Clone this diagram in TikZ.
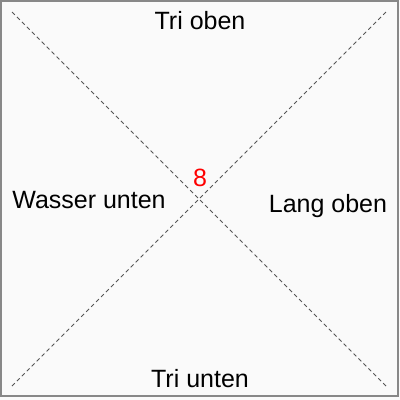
\documentclass[tikz,border=0pt]{standalone}
\usepackage{fontspec}
\setmainfont{Liberation Sans}
\usepackage{tikz}
\definecolor{bgcol}{HTML}{FAFAFA}
\definecolor{framecol}{HTML}{888888}
\definecolor{diagcol}{HTML}{555555}
\begin{document}
\begin{tikzpicture}[
            x=1pt, y=-1pt,
            every node/.style={anchor=base,inner sep=0pt,font=\fontsize{25}{29}\selectfont},
            diag/.style={draw=diagcol,line width=0.8pt,dash pattern=on 4pt off 3pt},
            numlabel/.style={text=red}
            ]
            \useasboundingbox (0,0) rectangle (400,400);
            \fill[bgcol] (0,0) rectangle (400,400);
            \draw[framecol,line width=2pt] (1,1) rectangle (398,396);
            \coordinate (tl) at (12,12);
            \coordinate (tr) at (386,12);
            \coordinate (bl) at (12,386);
            \coordinate (br) at (386,386);
            \draw[diag] (tl) -- (br);
            \draw[diag] (tr) -- (bl);
            \node (trioben) at (200,29) {Tri oben};
            \node (triunten) at (200,387) {Tri unten};
            \node (wasser) at (89,208) {Wasser unten};
            \node (lang) at (328,212) {Lang oben};
            \node[numlabel] (zahl) at (200,186) {8};
        \end{tikzpicture}
\end{document}
